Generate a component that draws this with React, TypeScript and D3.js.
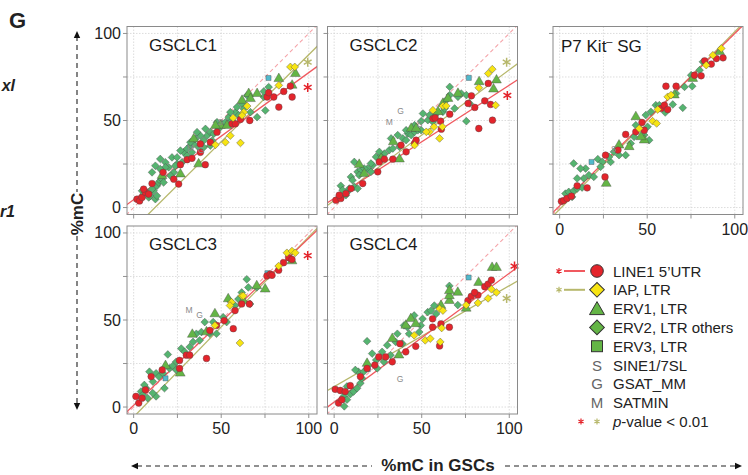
import React from 'react';
import * as d3 from 'd3';

type Pt = [number, number];

// ---- data ----
const gridTicks = [0, 25, 50, 75, 100];
const tickLabels = [0, 50, 100];
const panelTitles = ['GSCLC1', 'GSCLC2', 'P7 Kit', 'GSCLC3', 'GSCLC4'];

// GSCLC1
const c1Line1: Pt[] = [[1.9, 4.8], [3.4, 3.8], [4.8, 5.8], [6.7, 8.7], [10.5, 13.8], [16.8, 20.2], [25.7, 13.5], [26.7, 24.6], [30.5, 27.5], [33.3, 28.3], [38.1, 31.7], [40.9, 24.6], [47.6, 43.3], [56.2, 48.1], [58.1, 48.1], [61, 50.6], [66.3, 50], [76.2, 63.5], [80, 63.5], [82.9, 57.7], [85.7, 66.7], [89.5, 69.8], [90.5, 63.5], [77.1, 66], [38.1, 36.5], [43.8, 37.5], [5.7, 10.6], [8.6, 7.7], [22.9, 16.3]];
const c1Iap: Pt[] = [[52.4, 37.5], [61, 37.1], [55.2, 41.3], [62.9, 54.8], [64.8, 58.3], [56.8, 51.5], [82.9, 70.2], [89.5, 80.8], [92, 80.8], [46.7, 36], [61.9, 52.9]];
const c1Erv1: Pt[] = [[65.7, 65.4], [70.5, 65.4], [82.9, 74], [90.5, 70.2], [92.4, 76.9], [49.5, 47.1], [46.7, 47.1], [34.3, 39.4], [37.1, 25], [26.7, 19.2], [16.2, 18.3], [61.9, 61.5], [66.7, 62.5], [53.3, 47.1]];
const c1Erv2: Pt[] = [[4.8, 9.6], [5.7, 7.7], [7.6, 8.7], [8.6, 5.8], [9.5, 6.7], [11.4, 9.6], [12.4, 4.8], [10.5, 10.6], [13.3, 12.5], [14.3, 14.4], [15.2, 15.4], [16.2, 16.3], [10.5, 20.2], [12.4, 24], [15.2, 27.9], [18.1, 26], [20, 23.1], [21.9, 28.8], [22.9, 20.2], [24.8, 25], [27.6, 26], [28.6, 31.7], [30.5, 29.8], [32.4, 35.6], [34.3, 36.5], [35.2, 39.4], [37.1, 34.6], [40, 38.5], [41.9, 41.3], [43.8, 43.3], [44.8, 38.5], [45.7, 42.3], [48.6, 45.2], [50.5, 48.1], [52.4, 49], [54.3, 51.9], [56.2, 50], [58.1, 54.8], [60, 52.9], [61.9, 59.6], [64.8, 64.4], [66.7, 54.8], [70.5, 51.9], [75.2, 55.8], [74.3, 63.5], [77.1, 69.2], [74.3, 66.7], [33.3, 31.7], [21, 18.3], [17.1, 14.4], [13.3, 6.7], [18.1, 23.1], [23.8, 24], [30.5, 33.7], [38.1, 41.3], [41, 45.2], [47.6, 49], [55.2, 54.8], [59, 57.7], [62.9, 56.7], [40, 34.6], [43.8, 35.6], [36.2, 43.3], [24.8, 28.8], [26.7, 32.7], [32.4, 37.5], [15.2, 22.1]];
const c1Erv3: Pt[] = [[77, 74.4]];
const c1Marks: [string, number, number][] = [['M', 32.4, 34], ['G', 38.7, 33], ['S', 49.5, 49.4]];

// GSCLC2
const c2Line1: Pt[] = [[1, 4.2], [3.8, 5.2], [2.9, 7.1], [6.7, 8], [9.6, 10.9], [16.3, 13.8], [24.9, 20.5], [25.8, 26.2], [28.7, 27.8], [33.5, 27.8], [38.2, 35.8], [41.1, 32], [45.9, 36.8], [46.8, 38.7], [56.4, 51.1], [57.7, 51.5], [61.2, 45], [60.8, 49.6], [66, 53.6], [76.5, 59.8], [78.4, 64.2], [80.3, 57.5], [82.6, 45.4], [86, 61.3], [88, 71.3], [89.3, 59.2], [90.4, 50.2]];
const c2Iap: Pt[] = [[56.4, 55.9], [54.5, 43.5], [52.6, 43.5], [45.9, 35.8], [60.2, 39.7], [61.8, 46.4], [62.1, 58.4], [64, 58.4], [82.6, 68.8], [88, 77], [90.3, 79.5], [92.2, 58.8], [57, 46.4]];
const c2Erv1: Pt[] = [[14.3, 24.7], [37.3, 27.8], [33.8, 37.7], [44, 45.4], [62.1, 59.8], [65, 62.6], [70.7, 65.5], [82.8, 72.2], [91, 68], [92.7, 73.2], [17.2, 19.5], [26.8, 28.2], [46.8, 45.4], [59.3, 55]];
const c2Erv2: Pt[] = [[3.8, 12.5], [4.8, 10], [7.6, 9], [8.6, 10.9], [11.5, 11.9], [13.4, 10.9], [9.6, 17.6], [11.5, 26.2], [13.4, 20.5], [15.3, 21.5], [19.1, 22.4], [21, 20.5], [23.9, 29.1], [26.8, 30.1], [28.7, 31], [31.5, 33], [33.5, 33.9], [37.3, 34.9], [39.2, 39.7], [41.1, 38.7], [42.1, 42.5], [44, 41.6], [45.9, 43.5], [47.8, 44.4], [49.7, 44.4], [50.7, 54], [53.5, 50.2], [56.4, 49.2], [57.4, 53.1], [59.3, 55], [62.1, 55], [63.1, 56.9], [66, 69.3], [66, 64.6], [70.7, 63.6], [72.6, 65.5], [75.5, 64.6], [75.5, 49.6], [77.4, 59.8], [36.3, 41.6], [32.5, 39.7], [25.8, 32], [27.7, 28.2], [22, 24.3], [17.2, 22.4], [10.5, 15.7], [6.7, 7.1], [14.3, 18.6], [21, 25.3], [41.1, 44.4], [45.9, 47.3], [49.7, 49.6], [54.5, 53.1], [64, 61.7], [68.8, 56.9]];
const c2Erv3: Pt[] = [[76.9, 74.5]];
const c2Marks: [string, number, number][] = [['G', 37.9, 55.4], ['M', 31.5, 49.2], ['S', 48.8, 47.9]];

// P7 Kit- SG
const p7Line1: Pt[] = [[1, 3.6], [2.3, 4], [4.2, 5.2], [6.7, 6.5], [10, 12.5], [15.7, 11.3], [25.9, 17.6], [26.2, 30.1], [33.3, 33], [37.7, 42], [43.5, 43.5], [47, 48.9], [48.3, 44.4], [60.7, 69.7], [57.9, 56.9], [59.8, 58.8], [66.5, 69.7], [77, 76], [80.8, 75.7], [82.8, 84.3], [86.6, 82.4], [93.3, 86], [89.5, 85.6], [61.7, 56.3]];
const p7Iap: Pt[] = [[45.4, 45.4], [53.1, 49.6], [55.4, 48.3], [56, 56.3], [61.7, 63.6], [63.6, 64.6], [87.5, 87.5], [92.3, 91.4], [83.7, 81.8]];
const p7Erv1: Pt[] = [[43.5, 52.1], [39.7, 34.9], [33.9, 35.8], [26.6, 13.8], [65.5, 64.6], [76, 74.1], [91.4, 89.5], [48.3, 38.7], [46.4, 40.6]];
const p7Erv2: Pt[] = [[3.3, 8], [5.2, 9], [8, 9.6], [10, 10.9], [12.8, 11.5], [13.8, 16.7], [14.8, 22.4], [16.7, 18.6], [19.5, 17.6], [21.8, 27.8], [24.3, 26.2], [29.1, 26.2], [31, 32], [33.9, 30.1], [37.7, 30.1], [40.6, 36.8], [42.5, 40.6], [51.1, 38.7], [50.2, 46.4], [52.1, 55], [54.9, 58.8], [56.9, 58.8], [60.3, 54.6], [64.6, 59.2], [70.3, 57.3], [71.3, 69.3], [75.1, 76], [75.7, 69.7], [79.9, 78.9], [8, 25.3], [11.9, 22.4], [7.1, 6.1], [23.4, 23.4], [28.2, 29.1], [43.5, 47.3], [48.3, 41.6], [49.2, 53.1], [66.5, 65.5], [81.8, 83.7], [10, 16.7]];
const p7Erv3: Pt[] = [[18.2, 26.2]];
const p7Marks: [string, number, number][] = [['S', 31, 33.9]];

// GSCLC3
const c3Line1: Pt[] = [[1.3, 6.1], [2.9, 2.3], [4.8, 5.1], [6.7, 9.9], [10, 17.5], [16.3, 21.3], [26.2, 26.8], [26.2, 22.2], [30.1, 29.8], [41.6, 27.9], [43.5, 44], [47.3, 46.9], [51.7, 49.7], [56.9, 45], [57.9, 55.4], [61.7, 59.2], [66.1, 59.2], [76.1, 75.3], [78, 76.3], [82.8, 78.6], [85.6, 82.9], [88.5, 85.8], [90.4, 84.8], [79, 75.7], [32, 29.8]];
const c3Iap: Pt[] = [[46.4, 46.9], [60.7, 36.8], [55.9, 60.2], [61.7, 63.9], [62.6, 63.9], [55, 58.3], [82.8, 81], [87.5, 88.6], [90.4, 89.6], [92.3, 88.6]];
const c3Erv1: Pt[] = [[18.2, 23.7], [26.6, 19.4], [33.5, 41.7], [46.4, 53.5], [41.6, 43.1], [70.3, 69.6], [75.1, 67.7], [90.4, 83.9], [54, 62.1], [62.6, 61.1]];
const c3Erv2: Pt[] = [[4.2, 8.9], [5.2, 7], [7.1, 10.8], [8, 5.1], [9, 20.3], [11, 14.6], [12.8, 19.4], [14.4, 17.5], [19.5, 30.2], [20.5, 22.2], [22.4, 23.7], [24.3, 21.3], [27.2, 33.6], [29.1, 31.7], [32, 34.5], [35.8, 42.1], [38.7, 43.1], [40.6, 48.8], [43.5, 42.1], [47.3, 42.1], [51.1, 51.6], [53.1, 48.8], [55, 61.1], [57.9, 58.3], [59.8, 62], [64.6, 73.4], [65.5, 68.7], [70.3, 68.7], [12.8, 6.1], [17.6, 10.8], [10.9, 8], [24.3, 26], [33.9, 37.4], [45.4, 48.8], [61.7, 65.8], [66.5, 59.2], [16.7, 19.4], [6.1, 12.7], [37.7, 38.3]];
const c3Erv3: Pt[] = [[76.4, 76.9], [18.2, 16.5]];
const c3Marks: [string, number, number][] = [['M', 31.6, 55.8], ['G', 37.7, 52.6]];

// GSCLC4
const c4Line1: Pt[] = [[0.6, 10.2], [3.5, 9.5], [2.5, 2.3], [4.4, 4.2], [6.3, 8.9], [9.2, 12.3], [15, 17.5], [18.8, 22.2], [23.2, 24.1], [25.5, 28.8], [29.4, 28.8], [33.2, 26], [37.6, 36.4], [40.9, 31.7], [46.6, 34.9], [56.2, 50.7], [61, 47.8], [60.2, 35.1], [65.8, 45.9], [76.4, 61.1], [78.3, 63.6], [82.1, 64.3], [86, 69.1], [87.9, 70.6], [89.8, 72.9], [80.2, 65.8], [56.2, 45.9]];
const c4Iap: Pt[] = [[60.2, 56.4], [62.1, 55.4], [45.7, 41.2], [52, 38.3], [54.9, 39.3], [60.6, 37.4], [61.4, 45.4], [75.4, 58.6], [82.1, 59.8], [87.9, 62.4], [89.8, 67.7], [92.7, 65.8]];
const c4Erv1: Pt[] = [[18.8, 25], [33.2, 39.3], [37, 29.8], [40.9, 46.9], [43.8, 50.7], [46.6, 47.8], [61, 58.3], [65.8, 61.1], [65.8, 63.9], [70.6, 65.8], [75.4, 56.7], [82.5, 71.5], [90.2, 80.1], [92.7, 80.1], [65.8, 66.8]];
const c4Erv2: Pt[] = [[5.8, 0.4], [5.4, 6.1], [7.3, 4.2], [9.2, 7.4], [11.1, 8.9], [13.1, 10.8], [15, 13.7], [13.8, 20.3], [12.1, 21.3], [16.9, 20.3], [18.8, 37.8], [21.7, 30.7], [24, 27], [27.4, 31.7], [30.3, 35.5], [39, 36.4], [39.9, 46.9], [41.8, 45.9], [45.7, 52.6], [48.6, 43.1], [49.5, 46.9], [53.4, 54.5], [57.2, 58.3], [58.2, 53.5], [65.8, 69.6], [70.6, 58.6], [15.9, 16.5], [7.3, 11.8], [28.4, 26], [32.2, 29.8], [35.1, 37.4], [42.8, 42.1], [50.5, 50.7], [55.3, 55.4], [36.1, 42.1], [24.6, 22.2]];
const c4Erv3: Pt[] = [[76.8, 74.4], [19.2, 21.8]];
const c4Marks: [string, number, number][] = [['G', 37.6, 15.9]];

// fitted lines [intercept, slope] per panel
const line1Fits: Pt[] = [[4.5, 0.73], [5.3, 0.65], [1, 0.99], [1, 0.96], [2.8, 0.74]];
const iapFits: Pt[] = [[-12.2, 1.0], [4.1, 0.75], [-1, 1.02], [-5.7, 1.035], [11.7, 0.58]];
// p-value stars
const line1Stars: (Pt | null)[] = [[99.4, 69], [98.9, 64.4], null, [99.4, 87], [103, 81]];
const iapStars: (Pt | null)[] = [[99.4, 83.5], [98.5, 83.5], null, null, [98.5, 62.4]];

const legendItems = ['LINE1 5\u2019UTR', 'IAP, LTR', 'ERV1, LTR', 'ERV2, LTR others', 'ERV3, LTR', 'SINE1/7SL', 'GSAT_MM', 'SATMIN'];

const panelData = [
  { line1: c1Line1, iap: c1Iap, erv1: c1Erv1, erv2: c1Erv2, erv3: c1Erv3, marks: c1Marks },
  { line1: c2Line1, iap: c2Iap, erv1: c2Erv1, erv2: c2Erv2, erv3: c2Erv3, marks: c2Marks },
  { line1: p7Line1, iap: p7Iap, erv1: p7Erv1, erv2: p7Erv2, erv3: p7Erv3, marks: p7Marks },
  { line1: c3Line1, iap: c3Iap, erv1: c3Erv1, erv2: c3Erv2, erv3: c3Erv3, marks: c3Marks },
  { line1: c4Line1, iap: c4Iap, erv1: c4Erv1, erv2: c4Erv2, erv3: c4Erv3, marks: c4Marks },
];

// ---- layout ----
const PW = 190;
const PH = 188;
const layout = [
  { x: 127, y: 26.5, yLab: true, xLab: false },
  { x: 327.5, y: 26.5, yLab: false, xLab: false },
  { x: 553, y: 26.5, yLab: false, xLab: true },
  { x: 127, y: 226, yLab: true, xLab: true },
  { x: 327.5, y: 226, yLab: false, xLab: true },
];

const FONT = 'Liberation Sans, Arial, sans-serif';
const RED = '#e4242b';
const YELLOW = '#f7e412';
const TRI = '#64b546';
const DIAM = '#55b470';
const SQ = '#52b9cc';
const FIT_RED = '#f0595f';
const FIT_OLIVE = '#b7b86c';
const DIAG = '#f5a3a8';
const OUTLINE = '#4a4a4a';

const circle = d3.symbol().type(d3.symbolCircle).size(36)();
const square = d3.symbol().type(d3.symbolSquare).size(30)();
const triangle = d3.symbol().type(d3.symbolTriangle).size(42)();
const smallSquare = d3.symbol().type(d3.symbolSquare).size(26)();

// six-spoke asterisk
function starPath(r: number) {
  return [90, 30, -30].map((a) => {
    const t = (a * Math.PI) / 180;
    const dx = r * Math.cos(t), dy = r * Math.sin(t);
    return `M${-dx},${-dy}L${dx},${dy}`;
  }).join('');
}

function Panel({ i }: { i: number }) {
  const L = layout[i];
  const d = panelData[i];
  const x = d3.scaleLinear().domain([-3.8, 104.7]).range([L.x, L.x + PW]);
  const y = d3.scaleLinear().domain([-4, 104]).range([L.y + PH, L.y]);
  const clipId = `clip${i}`;
  const fitLine = (f: Pt) => {
    const xs = [-10, 115];
    return d3.line<number>().x((v) => x(v)).y((v) => y(f[0] + f[1] * v))(xs) || '';
  };
  const diag = d3.line<number>().x((v) => x(v)).y((v) => y(v))([-10, 115]) || '';
  const ls = line1Stars[i];
  const is = iapStars[i];
  return (
    <g>
      <defs>
        <clipPath id={clipId}>
          <rect x={L.x} y={L.y} width={PW} height={PH} />
        </clipPath>
      </defs>
      <rect x={L.x} y={L.y} width={PW} height={PH} fill="#fff" />
      {gridTicks.map((t) => (
        <g key={t}>
          <line x1={x(t)} x2={x(t)} y1={L.y} y2={L.y + PH} stroke="#d4d4d4" strokeWidth={0.8} strokeDasharray="1.5,1.5" />
          <line x1={L.x} x2={L.x + PW} y1={y(t)} y2={y(t)} stroke="#d4d4d4" strokeWidth={0.8} strokeDasharray="1.5,1.5" />
          <line x1={L.x - 4} x2={L.x} y1={y(t)} y2={y(t)} stroke="#777" strokeWidth={0.8} />
          <line x1={x(t)} x2={x(t)} y1={L.y + PH} y2={L.y + PH + 4} stroke="#777" strokeWidth={0.8} />
        </g>
      ))}
      <g clipPath={`url(#${clipId})`}>
        <path d={diag} stroke={DIAG} strokeWidth={1.1} strokeDasharray="4,3" fill="none" />
        <path d={fitLine(iapFits[i])} stroke={FIT_OLIVE} strokeWidth={1.3} fill="none" />
        <path d={fitLine(line1Fits[i])} stroke={FIT_RED} strokeWidth={1.3} fill="none" />
        {d.erv2.map((p, k) => (
          <path key={'d' + k} d={square} transform={`translate(${x(p[0])},${y(p[1])}) rotate(45)`} fill={DIAM} stroke={OUTLINE} strokeWidth={0.4} />
        ))}
        {d.erv1.map((p, k) => (
          <path key={'t' + k} d={triangle} transform={`translate(${x(p[0])},${y(p[1])})`} fill={TRI} stroke={OUTLINE} strokeWidth={0.4} />
        ))}
        {d.erv3.map((p, k) => (
          <path key={'s' + k} d={smallSquare} transform={`translate(${x(p[0])},${y(p[1])})`} fill={SQ} stroke={OUTLINE} strokeWidth={0.4} />
        ))}
        {d.line1.map((p, k) => (
          <path key={'c' + k} d={circle} transform={`translate(${x(p[0])},${y(p[1])})`} fill={RED} stroke={OUTLINE} strokeWidth={0.4} />
        ))}
        {d.iap.map((p, k) => (
          <path key={'y' + k} d={square} transform={`translate(${x(p[0])},${y(p[1])}) rotate(45)`} fill={YELLOW} stroke={OUTLINE} strokeWidth={0.4} />
        ))}
        {d.marks.map((m, k) => (
          <text key={'m' + k} x={x(m[1])} y={y(m[2]) + 3} textAnchor="middle" fontSize={8.5} fill="#8a8a8a" fontFamily={FONT}>{m[0]}</text>
        ))}
      </g>
      {ls && <path d={starPath(4.5)} transform={`translate(${x(ls[0])},${y(ls[1])})`} stroke={RED} strokeWidth={1.5} />}
      {is && <path d={starPath(4.5)} transform={`translate(${x(is[0])},${y(is[1])})`} stroke={FIT_OLIVE} strokeWidth={1.5} />}
      <rect x={L.x} y={L.y} width={PW} height={PH} fill="none" stroke="#8a8a8a" strokeWidth={1} />
      {i === 2 ? (
        <text x={L.x + 8} y={L.y + 25} fontSize={17} fontFamily={FONT} fill="#1a1a1a">
          {panelTitles[i]}
          <tspan dy={-7} fontSize={11}>{'\u2013'}</tspan>
          <tspan dy={7}> SG</tspan>
        </text>
      ) : (
        <text x={L.x + 22} y={L.y + 24} fontSize={17} fontFamily={FONT} fill="#1a1a1a">{panelTitles[i]}</text>
      )}
      {L.yLab && tickLabels.map((t) => (
        <text key={'yl' + t} x={L.x - 6} y={y(t) + 5.5} textAnchor="end" fontSize={16} fontFamily={FONT} fill="#222">{t}</text>
      ))}
      {L.xLab && tickLabels.map((t) => (
        <text key={'xl' + t} x={x(t)} y={L.y + PH + 20} textAnchor="middle" fontSize={16} fontFamily={FONT} fill="#222">{t}</text>
      ))}
    </g>
  );
}

function Legend() {
  const x0 = 597;
  const tx = 613;
  const rows = d3.range(9).map((k) => 271 + k * 18.8);
  return (
    <g fontFamily={FONT} fontSize={15} fill="#222">
      <path d={starPath(3)} transform={`translate(559,${rows[0]})`} stroke={RED} strokeWidth={1.2} />
      <line x1={564} x2={585} y1={rows[0]} y2={rows[0]} stroke={FIT_RED} strokeWidth={2} />
      <path d={starPath(3)} transform={`translate(559,${rows[1]})`} stroke={FIT_OLIVE} strokeWidth={1.2} />
      <line x1={564} x2={585} y1={rows[1]} y2={rows[1]} stroke={FIT_OLIVE} strokeWidth={2} />
      <circle cx={x0} cy={rows[0]} r={6.3} fill={RED} stroke="#333" strokeWidth={1} />
      <rect x={-5.2} y={-5.2} width={10.4} height={10.4} transform={`translate(${x0},${rows[1]}) rotate(45)`} fill={YELLOW} stroke="#333" strokeWidth={1} />
      <path d="M0,-7L7.5,6L-7.5,6Z" transform={`translate(${x0},${rows[2]})`} fill={TRI} stroke="#333" strokeWidth={1} />
      <rect x={-5.2} y={-5.2} width={10.4} height={10.4} transform={`translate(${x0},${rows[3]}) rotate(45)`} fill={TRI} stroke="#333" strokeWidth={1} />
      <rect x={x0 - 5.5} y={rows[4] - 5.5} width={11} height={11} fill={TRI} stroke="#333" strokeWidth={1} />
      {['S', 'G', 'M'].map((s, k) => (
        <text key={s} x={x0} y={rows[5 + k] + 5.5} textAnchor="middle" fill="#666">{s}</text>
      ))}
      {legendItems.map((t, k) => (
        <text key={t} x={tx} y={rows[k] + 5.5}>{t}</text>
      ))}
      <path d={starPath(3)} transform={`translate(581,${rows[8]})`} stroke={RED} strokeWidth={1.2} />
      <path d={starPath(3)} transform={`translate(${x0},${rows[8]})`} stroke={FIT_OLIVE} strokeWidth={1.2} />
      <text x={tx} y={rows[8] + 5.5}>
        <tspan fontStyle="italic">p</tspan>-value &lt; 0.01
      </text>
    </g>
  );
}

function Arrow({ x, y, dir }: { x: number; y: number; dir: 'up' | 'down' | 'left' | 'right' }) {
  const rot = { up: -90, down: 90, left: 180, right: 0 }[dir];
  return <path d="M0,0L-7,-3.2L-7,3.2Z" transform={`translate(${x},${y}) rotate(${rot})`} fill="#111" />;
}

export default function App() {
  return (
    <svg width={748} height={475} style={{ position: 'absolute', left: 0, top: 0, background: '#fff' }}>
      <text x={9} y={28} fontSize={22} fontWeight="bold" fontFamily={FONT} fill="#222">G</text>
      <text x={15} y={91} textAnchor="end" fontSize={16} fontWeight="bold" fontStyle="italic" fontFamily={FONT} fill="#222">xl</text>
      <text x={15} y={217} textAnchor="end" fontSize={16} fontWeight="bold" fontStyle="italic" fontFamily={FONT} fill="#222">r1</text>

      {d3.range(5).map((i) => <Panel key={i} i={i} />)}
      <Legend />

      {/* y axis caption */}
      <line x1={77} x2={77} y1={36} y2={192} stroke="#222" strokeWidth={1.1} strokeDasharray="5,4" />
      <line x1={77} x2={77} y1={236} y2={404} stroke="#222" strokeWidth={1.1} strokeDasharray="5,4" />
      <Arrow x={77} y={31} dir="up" />
      <Arrow x={77} y={410} dir="down" />
      <text transform="translate(83,214) rotate(-90)" textAnchor="middle" fontSize={17} fontWeight="bold" fontFamily={FONT} fill="#222">%mC</text>

      {/* x axis caption */}
      <line x1={137} x2={372} y1={466} y2={466} stroke="#222" strokeWidth={1.1} strokeDasharray="5,4" />
      <line x1={505} x2={736} y1={466} y2={466} stroke="#222" strokeWidth={1.1} strokeDasharray="5,4" />
      <Arrow x={131} y={466} dir="left" />
      <Arrow x={742} y={466} dir="right" />
      <text x={438} y={471} textAnchor="middle" fontSize={17} fontWeight="bold" fontFamily={FONT} fill="#222">%mC in GSCs</text>
    </svg>
  );
}
